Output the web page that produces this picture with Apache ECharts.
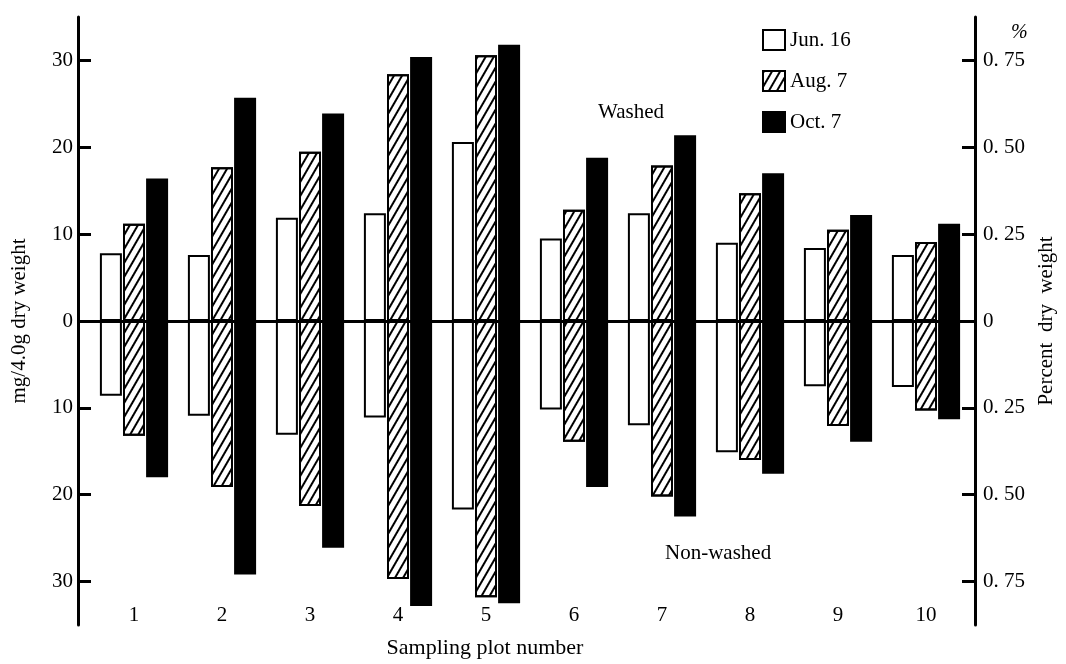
<!DOCTYPE html>
<html>
<head>
<meta charset="utf-8">
<script src="https://cdn.jsdelivr.net/npm/echarts@6/dist/echarts.min.js"></script>
<style>html,body{margin:0;padding:0;background:#fff;}#c{width:1066px;height:664px;}</style>
</head>
<body>
<div id="c"></div>
<script>
// Data (mg/4.0g dry weight); non-washed values as magnitudes below zero
var plots = ['1','2','3','4','5','6','7','8','9','10'];
var seriesNames = ['Jun. 16','Aug. 7','Oct. 7'];
var washedJun = [7.8, 7.6, 11.9, 12.4, 20.6, 9.5, 12.4, 9.0, 8.4, 7.6];
var washedAug = [11.2, 17.7, 19.5, 28.4, 30.6, 12.8, 17.9, 14.7, 10.5, 9.1];
var washedOct = [16.4, 25.7, 23.9, 30.4, 31.8, 18.8, 21.4, 17.0, 12.2, 11.2];
var nonwashedJun = [8.6, 10.9, 13.1, 11.1, 21.7, 10.2, 12.0, 15.1, 7.5, 7.6];
var nonwashedAug = [13.2, 19.1, 21.3, 29.7, 31.8, 13.9, 20.2, 16.0, 12.1, 10.3];
var nonwashedOct = [18.0, 29.2, 26.1, 32.8, 32.5, 19.1, 22.5, 17.6, 13.9, 11.3];
var leftTicks = [-30, -20, -10, 0, 10, 20, 30];
var rightTicks = [-30, -20, -10, 0, 10, 20, 30];

var FONT = 'Liberation Serif';
var chart = echarts.init(document.getElementById('c'), null, {renderer: 'canvas'});

var hatch = {symbol: 'rect', symbolSize: 1, dashArrayX: [1, 0], dashArrayY: [2, 5], rotation: -Math.PI / 3, color: '#000'};
var styles = [
  {color: '#fff', borderColor: '#000', borderWidth: 2},
  {color: '#fff', borderColor: '#000', borderWidth: 2, decal: hatch},
  {color: '#000', borderColor: '#000', borderWidth: 2}
];
var washed = [washedJun, washedAug, washedOct];
var nonwashed = [nonwashedJun, nonwashedAug, nonwashedOct];
var series = [];
for (var i = 0; i < 3; i++) {
  series.push({
    name: seriesNames[i], type: 'bar', stack: 's' + i, barWidth: 22, barGap: '5%',
    itemStyle: styles[i], data: washed[i], silent: true
  });
  series.push({
    name: seriesNames[i], type: 'bar', stack: 's' + i, barWidth: 22, barGap: '5%',
    itemStyle: styles[i], data: nonwashed[i].map(function (v) { return -v; }), silent: true
  });
}
series[0].markLine = {
  silent: true, symbol: 'none', label: {show: false},
  lineStyle: {color: '#000', width: 3, type: 'solid'},
  data: [{yAxis: 0}]
};
series[0].z = 3;

chart.setOption({
  animation: false,
  backgroundColor: '#fff',
  textStyle: {fontFamily: FONT, color: '#000'},
  grid: {left: 90, right: 96, top: 17, bottom: 38},
  legend: {
    data: seriesNames, orient: 'vertical', left: 757, top: 24,
    itemWidth: 22, itemHeight: 20, itemGap: 19, icon: 'rect',
    textStyle: {fontFamily: FONT, fontSize: 21, color: '#000'},
    selectedMode: false
  },
  xAxis: {
    type: 'category', data: plots, offset: -28,
    axisLine: {show: false}, axisTick: {show: false},
    axisLabel: {fontFamily: FONT, fontSize: 21, color: '#000', margin: 8},
    name: 'Sampling plot number', nameLocation: 'middle', nameGap: 40,
    nameTextStyle: {fontFamily: FONT, fontSize: 22, color: '#000', padding: [0, 90, 0, 0]},
    splitLine: {show: false}
  },
  yAxis: [
    {
      type: 'value', min: -35, max: 35, position: 'left', offset: 12,
      axisLine: {show: true, lineStyle: {color: '#000', width: 3}},
      axisTick: {show: true, inside: true, length: 13, lineStyle: {color: '#000', width: 3}, customValues: leftTicks},
      axisLabel: {fontFamily: FONT, fontSize: 21, color: '#000', margin: 5, customValues: leftTicks,
        formatter: function (v) { return String(Math.abs(v)); }},
      splitLine: {show: false},
      name: 'mg/4.0g dry weight', nameLocation: 'middle', nameGap: 48, nameRotate: 90,
      nameTextStyle: {fontFamily: FONT, fontSize: 21, color: '#000'}
    },
    {
      type: 'value', min: -35, max: 35, position: 'right', offset: 5,
      axisLine: {show: true, lineStyle: {color: '#000', width: 3}},
      axisTick: {show: true, inside: true, length: 13, lineStyle: {color: '#000', width: 3}, customValues: rightTicks},
      axisLabel: {fontFamily: FONT, fontSize: 21, color: '#000', margin: 8, customValues: rightTicks,
        formatter: function (v) { return v === 0 ? '0' : (Math.abs(v) / 40).toFixed(2).replace('.', '. '); }},
      splitLine: {show: false},
      name: 'Percent  dry  weight', nameLocation: 'middle', nameGap: 60, nameRotate: 90,
      nameTextStyle: {fontFamily: FONT, fontSize: 21, color: '#000'}
    }
  ],
  graphic: [
    {type: 'text', left: 1011, top: 23, style: {text: '%', font: 'italic 20px "Liberation Serif"', fill: '#000'}},
    {type: 'text', left: 598, top: 102, style: {text: 'Washed', font: '21px "Liberation Serif"', fill: '#000'}},
    {type: 'text', left: 665, top: 543, style: {text: 'Non-washed', font: '21px "Liberation Serif"', fill: '#000'}}
  ],
  series: series
});
</script>
</body>
</html>
